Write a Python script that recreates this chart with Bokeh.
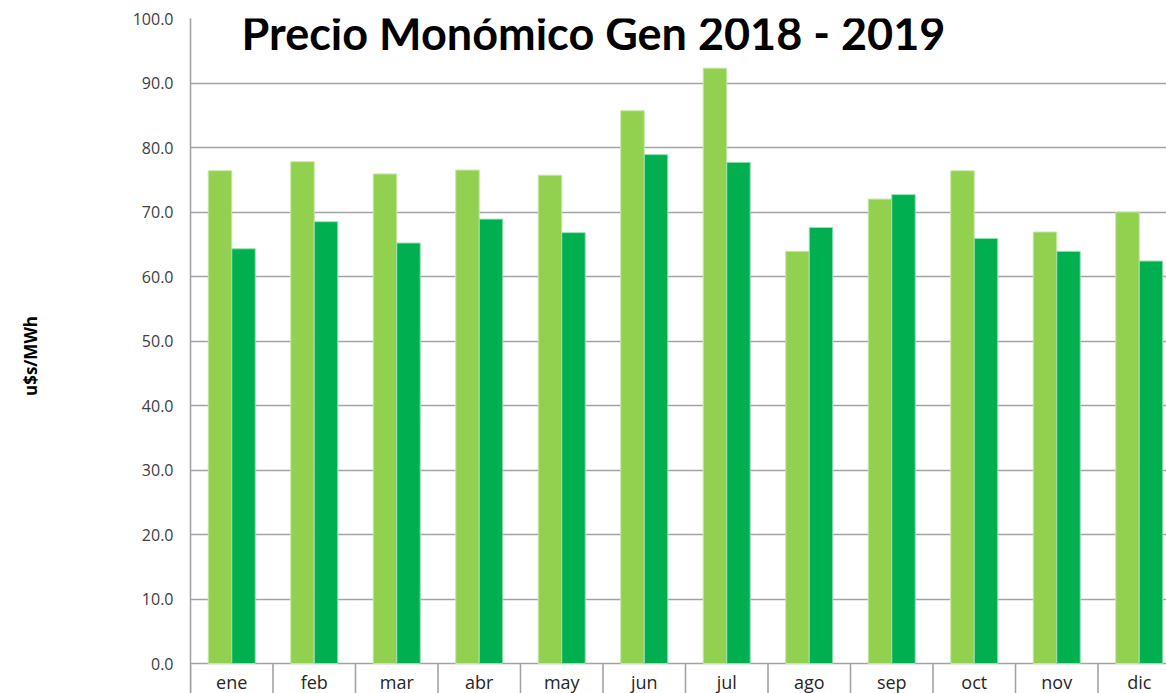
import numpy as np
from bokeh.plotting import figure
from bokeh.models import FixedTicker, NumeralTickFormatter, Range1d, Label
from bokeh.core.properties import value
from bokeh.embed import file_html
from bokeh.resources import INLINE

months = ["ene", "feb", "mar", "abr", "may", "jun", "jul", "ago", "sep", "oct", "nov", "dic"]
precio_2018 = [76.4, 77.8, 75.9, 76.5, 75.7, 85.7, 92.3, 63.9, 72.0, 76.4, 66.9, 70.0]
precio_2019 = [64.3, 68.5, 65.2, 68.9, 66.8, 78.9, 77.7, 67.6, 72.7, 65.9, 63.9, 62.4]
y_ticks = [0, 10, 20, 30, 40, 50, 60, 70, 80, 90, 100]
title_text = "Precio Monómico Gen 2018 - 2019"
y_label = "u$s/MWh"

W, H = 1166, 693
left, top = 190, 18
frame_w = W - left
cat_px = 82.5
px_per_unit = 6.45
y_low = -(H - 663) / px_per_unit

centers = np.arange(len(months)) + 0.5
bounds = np.arange(len(months) + 1).astype(float)

p = figure(width=W, height=H, output_backend="svg", toolbar_location=None,
           x_range=Range1d(0, frame_w / cat_px), y_range=Range1d(y_low, 100),
           min_border_left=left, min_border_top=top, min_border_right=0, min_border_bottom=0)
p.outline_line_color = None
p.background_fill_color = "white"
p.border_fill_color = "white"

bw = 0.285
p.vbar(x=centers - bw / 2, top=precio_2018, width=bw, bottom=0,
       fill_color="#92D050", line_color="#c4e8a6", line_width=1)
p.vbar(x=centers + bw / 2, top=precio_2019, width=bw, bottom=0,
       fill_color="#00B050", line_color="#9be0b4", line_width=1)

# grids
p.xgrid.grid_line_color = None
p.ygrid.grid_line_color = "#a3a3a3"
p.ygrid.grid_line_width = 1.6
p.ygrid.ticker = FixedTicker(ticks=y_ticks)

# category separators below the baseline and month labels
p.segment(x0=bounds, y0=[0] * len(bounds), x1=bounds, y1=[y_low] * len(bounds),
          line_color="#a3a3a3", line_width=1.6)
p.text(x=centers, y=[-2.8] * len(months), text=months,
       text_font=value("Open Sans"), text_font_size="18px", text_color="#262626",
       text_align="center", text_baseline="middle")

# y axis
p.yaxis.ticker = FixedTicker(ticks=y_ticks)
p.yaxis.formatter = NumeralTickFormatter(format="0.0")
p.yaxis.axis_line_color = "#a3a3a3"
p.yaxis.axis_line_width = 1.6
p.yaxis.major_tick_out = 0
p.yaxis.major_tick_in = 0
p.yaxis.minor_tick_out = 0
p.yaxis.minor_tick_in = 0
p.yaxis.major_label_standoff = 17
p.yaxis.major_label_text_font = "Open Sans"
p.yaxis.major_label_text_font_size = "16px"
p.yaxis.major_label_text_color = "#404040"
p.yaxis.axis_label = y_label
p.yaxis.axis_label_text_font = "Open Sans"
p.yaxis.axis_label_text_font_style = "bold"
p.yaxis.axis_label_text_font_size = "17px"
p.yaxis.axis_label_text_color = "black"
p.yaxis.axis_label_standoff = 88

p.xaxis.visible = False

# title box
title = Label(x=(235 - left) / cat_px, y=100 - (32.5 - top) / px_per_unit, text=title_text,
              text_font="Lato", text_font_style="bold", text_font_size="45px",
              text_color="black", text_baseline="middle", text_align="left",
              background_fill_color="white", padding=6)
p.add_layout(title)

open("out.html", "w").write(file_html(p, INLINE))
